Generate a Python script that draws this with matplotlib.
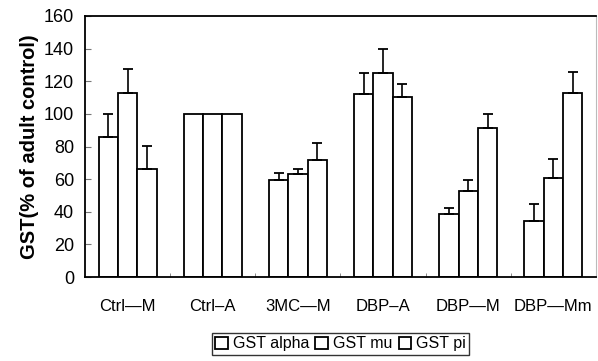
import matplotlib.pyplot as plt
import numpy as np

groups = ['Ctrl\u2014M', 'Ctrl\u2013A', '3MC\u2014M', 'DBP\u2013A', 'DBP\u2014M', 'DBP\u2014Mm']
series = ['GST alpha', 'GST mu', 'GST pi']
gst_alpha = [86, 100, 59.5, 112, 38.5, 34.5]
gst_mu = [113, 100, 63, 125, 53, 60.5]
gst_pi = [66.5, 100, 71.5, 110.5, 91.5, 112.5]
err_alpha = [14, 0, 4.5, 13, 3.5, 10]
err_mu = [14.5, 0, 3.5, 15, 6.5, 12]
err_pi = [14, 0, 10.5, 8, 8.5, 13]

plt.rcParams['font.family'] = ['Liberation Sans', 'DejaVu Sans']

fig = plt.figure(figsize=(5.98, 3.61), dpi=100)
ax = fig.add_axes([85 / 598, 1 - 277 / 361, 511 / 598, 261 / 361])

x = np.arange(len(groups))
w = 0.227
for i, (vals, errs, name) in enumerate(zip([gst_alpha, gst_mu, gst_pi], [err_alpha, err_mu, err_pi], series)):
    pos = x + (i - 1) * w
    ax.bar(pos, vals, w, color='white', edgecolor='black', linewidth=1.3, label=name)
    e = np.array(errs)
    m = e > 0
    ax.errorbar(pos[m], np.array(vals)[m], yerr=[np.zeros(m.sum()), e[m]], fmt='none',
                ecolor='black', elinewidth=1.2, capsize=3.3, capthick=1.3)

ax.set_xlim(-0.5, len(groups) - 0.5)
ax.set_ylim(0, 160)
ax.set_yticks(range(0, 161, 20))
ax.set_xticks(x)
ax.set_xticklabels(groups, fontsize=12)
ax.set_xticks(np.arange(0.5, len(groups) - 1, 1), minor=True)
ax.tick_params(axis='x', which='major', length=0, pad=16)
ax.tick_params(axis='x', which='minor', direction='in', length=3, color='#777777')
ax.tick_params(axis='y', direction='in', length=4, color='#777777', labelsize=13, pad=8)
ax.set_ylabel('GST(% of adult control)', fontsize=14.5, fontweight='bold', labelpad=3)

for s in ['left', 'bottom', 'top']:
    ax.spines[s].set_linewidth(1.3)
ax.spines['right'].set_color('#bbbbbb')

leg = ax.legend(loc='upper center', bbox_to_anchor=(0.5, -0.215), ncol=3, frameon=True,
                fancybox=False, edgecolor='black', fontsize=11.5, handlelength=0.8,
                handleheight=0.8, handletextpad=0.3, columnspacing=0.4, borderpad=0.2,
                borderaxespad=0)
leg.get_frame().set_linewidth(1.0)

plt.savefig('out.png', dpi=100)
